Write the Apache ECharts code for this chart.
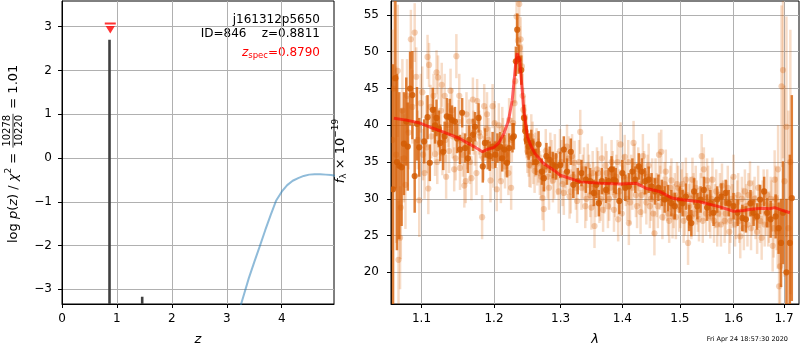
<!DOCTYPE html>
<html><head><meta charset="utf-8">
<script src="https://cdn.jsdelivr.net/npm/echarts@6/dist/echarts.min.js"></script>
<style>html,body{margin:0;padding:0;background:#fff}#c{width:800px;height:350px}</style>
</head><body><div id="c"></div>
<script>
// ---------- tick labels ----------
const zTicks = [0, 1, 2, 3, 4];
const logpTicks = [-3, -2, -1, 0, 1, 2, 3];
const lamTicks = [1.1, 1.2, 1.3, 1.4, 1.5, 1.6, 1.7];
const fluxTicks = [20, 25, 30, 35, 40, 45, 50, 55];

// ---------- left panel: p(z) ----------
const spikeZ = [0.865, 1.46];
const spikeTop = [2.70, -3.17];
const zspecZ = [0.879];
const zspecY = [2.97];
const curveZ = [3.0, 3.26, 3.4, 3.5, 3.6, 3.7, 3.8, 3.9, 4.0, 4.1, 4.2, 4.3, 4.4, 4.5, 4.6, 4.7, 4.8, 4.9, 5.0];
const curveY = [-4.6, -3.34, -2.75, -2.38, -2.02, -1.65, -1.3, -0.97, -0.77, -0.62, -0.52, -0.46, -0.41, -0.38, -0.37, -0.37, -0.38, -0.39, -0.41];

// ---------- right panel: spectrum ----------
const modelLam = [1.064, 1.08, 1.098, 1.112, 1.129, 1.1515, 1.1715, 1.1834, 1.19, 1.2, 1.207, 1.2145, 1.221, 1.2266, 1.2313, 1.2337, 1.2376, 1.241, 1.2438, 1.2492, 1.2545, 1.2601, 1.2737, 1.2923, 1.2995, 1.3313, 1.364, 1.3963, 1.4242, 1.441, 1.4636, 1.4863, 1.5, 1.536, 1.574, 1.6, 1.619, 1.638, 1.658, 1.671, 1.681, 1.698, 1.712];
const modelFlux = [40.95, 40.7, 40.3, 39.7, 39.1, 38.2, 37.1, 36.4, 36.7, 37.0, 37.6, 38.9, 40.6, 43.4, 48.0, 49.8, 48.9, 45.2, 42.1, 38.4, 37.2, 36.2, 34.8, 33.7, 33.2, 32.3, 32.1, 32.0, 32.1, 31.4, 31.0, 30.1, 29.9, 29.6, 28.9, 28.3, 28.4, 28.6, 28.7, 28.65, 28.8, 28.4, 28.1];

const darkLam = [
 1.063,1.066,1.068,1.071,1.074,1.077,1.080,1.082,1.085,1.088,
 1.091,1.094,1.097,1.1035,1.108,1.111,1.115,1.118,1.120,1.123,
 1.125,1.129,1.131,1.134,1.138,1.141,1.145,1.148,1.152,1.155,
 1.159,1.163,1.165,1.170,1.173,1.178,1.184,1.187,1.191,1.194,
 1.198,1.202,1.205,1.209,1.212,1.215,1.219,1.222,1.227,1.229,
 1.232,1.234,1.236,1.240,1.244,1.246,1.248,1.251,1.255,1.258,
 1.262,1.266,1.271,1.274,1.278,1.283,1.288,1.293,1.2995,1.305,
 1.310,1.316,1.320,1.327,1.333,1.340,1.347,1.353,1.357,1.361,
 1.366,1.373,1.377,1.382,1.386,1.389,1.395,1.400,1.405,1.411,
 1.417,1.422,1.428,1.433,1.439,1.445,1.450,1.456,1.462,1.468,
 1.473,1.479,1.485,1.491,1.500,1.505,1.511,1.517,1.521,1.526,
 1.532,1.538,1.544,1.550,1.556,1.562,1.569,1.577,1.585,1.591,
 1.600,1.608,1.617,1.624,1.633,1.639,1.646,1.652,1.660,1.666,
 1.673,1.683,1.689,1.694,1.698,1.705,1.712,1.716];
const darkFlux = [
 31.3,46.4,35.0,34.5,34.3,37.5,40.5,37.1,45.0,44.1,
 33.1,40.2,37.0,37.8,41.1,34.9,42.1,40.0,41.0,39.5,
 37.6,36.4,38.5,41.2,41.1,40.7,40.5,38.2,36.7,41.7,
 36.9,35.5,38.0,38.7,39.8,41.0,34.4,37.6,36.0,35.8,
 37.1,36.0,36.9,37.1,35.5,36.7,34.9,36.9,38.3,38.5,
 48.7,53.0,49.0,47.5,41.0,39.2,38.0,37.1,37.6,36.4,
 35.0,37.4,33.7,32.8,35.8,35.3,34.6,34.4,34.6,36.7,
 33.7,36.4,31.9,32.4,33.5,32.6,32.4,30.8,31.9,29.4,
 32.4,31.2,32.4,34.0,32.6,32.4,29.7,33.5,31.5,31.7,
 33.7,32.6,34.4,33.7,32.4,32.6,31.7,31.0,31.5,30.8,
 29.9,30.1,29.4,29.0,29.9,29.4,30.3,27.4,26.7,31.0,
 29.0,29.9,31.2,28.8,29.4,28.1,29.9,30.3,30.8,29.4,
 29.0,28.1,27.4,27.2,29.4,28.1,27.6,29.9,31.0,28.1,
 27.2,27.6,26.0,24.0,28.1,20.0,24.0,30.1];
const darkErr = [
 17,15,12,10,8,7,6,6,5,6,
 5,5,4,3,3,2.5,3,2.5,2.5,2.5,
 2.5,2.5,2,2.5,2.5,2,2,2,2,2,
 2,2,2,2.2,2,2,2.2,2,2,2,
 2,1.8,2,2,1.8,2,2,2,2,1.8,
 2,2.2,2,2,1.8,1.8,2,1.8,1.8,1.8,
 1.8,1.8,1.8,1.8,1.8,1.8,1.8,1.8,1.8,1.8,
 1.8,1.8,1.8,1.8,1.8,1.8,1.8,1.8,1.8,1.8,
 1.8,1.8,1.8,1.8,1.8,1.8,1.8,1.8,1.8,1.8,
 1.8,1.8,1.8,1.8,1.8,1.8,1.8,1.8,1.8,1.8,
 1.8,1.8,1.8,1.8,1.8,1.8,1.8,1.8,1.8,1.8,
 1.8,1.8,1.8,1.8,1.8,1.8,1.8,1.8,1.8,1.8,
 1.8,1.8,1.8,1.8,1.8,1.8,1.8,2,2,2,
 2.5,3,3.5,6,7,10,12,14];

const lightLam = [
 1.062,1.064,1.067,1.069,1.070,1.072,1.073,1.075,1.077,1.079,
 1.081,1.083,1.086,1.088,1.091,1.093,1.095,1.097,1.099,1.102,
 1.104,1.106,1.108,1.109,1.110,1.113,1.116,1.118,1.120,1.122,
 1.124,1.126,1.128,1.131,1.133,1.136,1.139,1.142,1.144,1.147,
 1.150,1.152,1.155,1.158,1.160,1.162,1.165,1.168,1.170,1.173,
 1.176,1.179,1.183,1.186,1.189,1.192,1.195,1.198,1.201,1.204,
 1.207,1.210,1.213,1.216,1.219,1.222,1.225,1.228,1.231,1.233,
 1.237,1.239,1.241,1.243,1.246,1.249,1.252,1.255,1.258,1.261,
 1.264,1.268,1.272,1.274,1.277,1.280,1.284,1.288,1.291,1.295,
 1.299,1.303,1.307,1.310,1.314,1.318,1.322,1.326,1.331,1.335,
 1.339,1.343,1.347,1.351,1.354,1.358,1.362,1.366,1.370,1.374,
 1.378,1.382,1.386,1.390,1.393,1.397,1.400,1.404,1.408,1.411,
 1.415,1.419,1.423,1.427,1.431,1.435,1.439,1.443,1.447,1.451,
 1.455,1.459,1.463,1.467,1.471,1.475,1.479,1.483,1.487,1.491,
 1.495,1.499,1.503,1.507,1.511,1.515,1.519,1.523,1.527,1.531,
 1.535,1.540,1.544,1.548,1.552,1.556,1.560,1.565,1.569,1.574,
 1.578,1.583,1.587,1.592,1.596,1.600,1.605,1.609,1.613,1.618,
 1.622,1.627,1.632,1.636,1.641,1.646,1.650,1.655,1.659,1.664,
 1.668,1.673,1.677,1.681,1.685,1.688,1.690,1.692,1.695,1.698,
 1.701,1.705,1.709,1.713];
const lightFlux = [
 38.0,45.0,36.0,47.4,21.7,24.7,28.8,42.0,35.5,31.9,
 44.0,39.0,51.7,42.5,52.6,46.6,38.0,29.8,43.0,36.0,
 33.5,40.5,49.3,31.4,48.2,38.5,44.0,36.1,47.2,46.5,
 39.0,42.0,36.2,44.0,33.0,40.0,44.7,38.5,34.0,49.4,
 40.5,34.2,38.0,31.8,32.4,37.0,40.5,32.8,43.5,37.5,
 43.3,39.0,27.5,42.6,39.5,38.0,32.5,42.6,40.3,31.3,
 40.0,32.4,38.0,34.4,37.0,40.7,31.5,40.3,46.0,54.8,
 56.5,51.7,48.0,42.1,39.8,36.5,34.6,38.5,35.0,36.0,
 34.8,33.5,30.1,28.6,36.5,33.0,36.0,32.5,35.8,33.5,
 36.5,32.0,34.5,37.1,30.3,35.8,34.9,29.7,39.1,33.0,
 29.0,34.5,30.5,33.5,26.3,34.0,29.7,35.5,31.0,33.5,
 30.0,35.0,28.5,33.0,27.2,37.4,31.5,35.7,30.0,26.7,
 33.0,37.6,30.5,34.0,28.2,35.8,31.0,33.0,29.0,32.5,
 25.3,30.5,36.0,36.4,30.0,33.7,28.0,31.5,27.6,30.5,
 32.0,28.5,31.0,27.0,32.6,24.0,30.0,32.6,28.0,29.5,
 27.2,35.8,34.0,28.0,31.5,27.6,32.6,29.0,26.5,30.5,
 31.8,27.0,29.5,25.5,30.0,33.0,27.5,30.5,24.9,28.5,
 31.0,26.5,32.1,28.0,30.0,25.5,29.0,24.7,31.0,28.0,
 26.5,30.0,23.6,32.6,28.0,34.0,18.1,20.8,45.3,47.5,
 32.4,39.8,26.0,35.0];
const lightErr = [
 15,14,12,9,8,7,7,7,6,6,
 5,5,4,5,4,4,4,5,4,3.5,
 3.5,3.5,3,3.5,3,3,3,3,3,3,
 3,3,3,3,3,3,3,3,3,3,
 3,3,3,3,3,3,3,3,3,3,
 3,3,3,3,3,3,3,3,3,3,
 3,3,3,3,3,3,3,3,3,3,
 3,3,3,3,3,3,3,3,3,3,
 3,3,3,3,3,3,3,3,3,3,
 3,3,3,3,3,3,3,3,3,3,
 3,3,3,3,3,3,3,3,3,3,
 3,3,3,3,3,3,3,3,3,3,
 3,3,3,3,3,3,3,3,3,3,
 3,3,3,3,3,3,3,3,3,3,
 3,3,3,3,3,3,3,3,3,3,
 3,3,3,3,3,3,3,3,3,3,
 3,3,3,3,3,3,3,3,3,3,
 3,3,3,3,3,3,3,3,3,3,
 3,3,3.5,4,5,6,8,9,11,12,
 13,15,16,18];

// second batch of faint points (interleaved)
const light2Lam = [
 1.101,1.107,1.112,1.117,1.121,1.127,1.132,1.137,1.141,1.146,
 1.151,1.156,1.161,1.166,1.171,1.175,1.180,1.185,1.190,1.194,
 1.199,1.203,1.208,1.212,1.217,1.221,1.226,1.230,1.235,1.238,
 1.242,1.245,1.248,1.251,1.254,1.257,1.260,1.263,1.266,1.270,
 1.276,1.282,1.286,1.290,1.297,1.301,1.305,1.309,1.313,1.316,
 1.320,1.324,1.329,1.333,1.337,1.341,1.345,1.349,1.352,1.356,
 1.360,1.364,1.368,1.372,1.376,1.380,1.384,1.388,1.392,1.395,
 1.399,1.402,1.406,1.410,1.413,1.417,1.421,1.425,1.429,1.433,
 1.437,1.441,1.445,1.449,1.453,1.457,1.461,1.465,1.469,1.473,
 1.477,1.481,1.485,1.489,1.493,1.497,1.501,1.505,1.509,1.513,
 1.517,1.521,1.525,1.529,1.533,1.538,1.542,1.546,1.550,1.554,
 1.558,1.563,1.567,1.571,1.576,1.580,1.585,1.589,1.594,1.598,
 1.603,1.607,1.611,1.616,1.620,1.625,1.629,1.634,1.638,1.643,
 1.648,1.652,1.657,1.661,1.666,1.670,1.675,1.679,1.683,1.687];
const light2Flux = [
 44.5,37.0,42.5,39.5,35.0,45.5,38.0,36.5,42.0,35.5,
 44.0,36.0,41.5,35.0,39.0,33.5,38.5,35.5,41.5,36.8,
 34.5,37.5,35.5,39.5,36.0,33.5,38.0,43.0,51.5,50.5,
 44.0,41.0,38.5,36.0,34.5,37.5,33.8,36.6,35.2,33.0,
 34.0,31.5,35.0,33.0,31.0,35.0,30.8,33.5,35.5,31.0,
 33.0,31.5,35.0,31.5,34.0,30.0,33.0,28.8,32.0,30.5,
 33.5,30.0,28.5,34.5,29.0,31.5,33.5,30.5,35.0,31.0,
 28.0,33.0,32.0,35.0,29.5,31.5,34.5,29.0,32.0,30.5,
 33.5,29.5,34.5,30.0,28.0,32.5,29.0,31.5,27.5,32.0,
 30.0,27.0,32.5,29.0,27.5,31.5,29.0,32.0,28.0,30.5,
 29.0,27.5,30.5,31.5,28.5,30.5,27.0,30.0,32.5,28.5,
 30.0,27.0,31.0,28.0,26.5,29.5,28.0,31.5,27.0,29.0,
 26.5,29.5,27.0,30.0,26.0,29.0,30.5,26.0,29.5,27.5,
 31.5,27.0,29.5,26.5,30.5,27.5,29.0,26.0,30.0,25.5];
const light2Err = [
 3.5,3.5,3,3,3,3,3,3,3,3,
 3,3,3,3,3,3,3,3,3,3,
 3,3,3,3,3,3,3,3,3,3,
 3,3,3,3,3,3,3,3,3,3,
 3,3,3,3,3,3,3,3,3,3,
 3,3,3,3,3,3,3,3,3,3,
 3,3,3,3,3,3,3,3,3,3,
 3,3,3,3,3,3,3,3,3,3,
 3,3,3,3,3,3,3,3,3,3,
 3,3,3,3,3,3,3,3,3,3,
 3,3,3,3,3,3,3,3,3,3,
 3,3,3,3,3,3,3,3,3,3,
 3,3,3,3,3,3,3,3,3,3,
 3,3,3,3,3.5,3.5,3.5,4,4.5,5];

// ---------- helpers ----------
const FAM = "'DejaVu Sans'";
const ctx = document.createElement('canvas').getContext('2d');
function tw(t, font) { ctx.font = font; return ctx.measureText(t).width; }
function txt(text, x, y, font, fill, align) {
  return { type: 'text', x: x, y: y, silent: true,
    style: { text: text, font: font, fill: fill || '#000', align: align || 'left', verticalAlign: 'middle',
             textAlign: align || 'left', textVerticalAlign: 'middle' } };
}
function pieces(list, x0, y0) {
  let x = x0; const els = [];
  list.forEach(p => { els.push(txt(p[0], x, y0 + p[2], p[1], p[3])); x += tw(p[0], p[1]); });
  return { els: els, width: x - x0 };
}
const F13 = "13px " + FAM, I13 = "italic 13px " + FAM, F9 = "9px " + FAM, F10 = "10px " + FAM;
const F12 = "12px " + FAM, I12 = "italic 12px " + FAM, F8 = "8.5px " + FAM;

// left y label (rotated, with fraction)
const la = pieces([['log ', F13, 0], ['p', I13, 0], ['(', F13, 0], ['z', I13, 0], [') / ', F13, 0], ['\u03c7', I13, 0], ['2', F9, -5], [' = ', F13, 0]], 0, 0);
const fw = Math.max(tw('10278', F10), tw('10220', F10)) + 2;
const fx = la.width + 1;
const lb = pieces([[' = 1.01', F13, 0]], fx + fw + 1, 0);
const leftLabel = { type: 'group', x: 14, y: 243, rotation: Math.PI / 2, children:
  la.els.concat([
    txt('10278', fx + fw / 2, -6.5, F10, '#000', 'center'),
    txt('10220', fx + fw / 2, 5.5, F10, '#000', 'center'),
    { type: 'line', silent: true, shape: { x1: fx, y1: -1, x2: fx + fw, y2: -1 }, style: { stroke: '#000', lineWidth: 0.8 } }
  ], lb.els) };

// right y label
const rl = pieces([['f', I13, 0], ['\u03bb', F9, 3], [' \u00d7 10', F13, 0], ['\u221219', F9, -5]], 0, 0);
rl.els.forEach(e => { e.x -= rl.width / 2; });
const rightLabel = { type: 'group', x: 341, y: 151, rotation: Math.PI / 2, children: rl.els };

// zspec text (right aligned)
const zs = pieces([['z', I12, 0, '#ff0000'], ['spec', F8, 3, '#ff0000'], ['=0.8790', F12, 0, '#ff0000']], 0, 0);
zs.els.forEach(e => { e.x += 320 - zs.width; });

function errSeries(points, barCol, dotCol) {
  return {
    type: 'custom', xAxisIndex: 1, yAxisIndex: 1, clip: true, silent: true,
    data: points, encode: { x: 0, y: 1 },
    renderItem: function (params, api) {
      const x = api.value(0), y = api.value(1), e = api.value(2);
      const p = api.coord([x, y]), lo = api.coord([x, y - e]), hi = api.coord([x, y + e]);
      return { type: 'group', children: [
        { type: 'line', shape: { x1: p[0], y1: lo[1], x2: p[0], y2: hi[1] }, style: { stroke: barCol, lineWidth: 2.5 } },
        { type: 'circle', shape: { cx: p[0], cy: p[1], r: 3.1 }, style: { fill: dotCol } }
      ] };
    }
  };
}

const chart = echarts.init(document.getElementById('c'), null, { renderer: 'canvas' });
const axisCommon = {
  axisLine: { show: true, onZero: false, lineStyle: { color: '#000', width: 1 } },
  axisTick: { show: true, inside: false, length: 4, lineStyle: { color: '#000', width: 1 } },
  splitLine: { show: true, lineStyle: { color: '#b0b0b0', width: 1 } },
  axisLabel: { color: '#000', fontSize: 12, fontFamily: 'DejaVu Sans' }
};
function fmtMinus(v) { return v < 0 ? '\u2212' + Math.abs(v) : String(v); }

chart.setOption({
  animation: false,
  backgroundColor: '#fff',
  grid: [
    { left: 62, top: 1, width: 272, height: 303, show: true, borderColor: '#000', borderWidth: 1, backgroundColor: 'transparent' },
    { left: 391, top: 1, width: 408, height: 303, show: true, borderColor: '#000', borderWidth: 1, backgroundColor: 'transparent' }
  ],
  xAxis: [
    Object.assign({}, axisCommon, { type: 'value', gridIndex: 0, min: 0, max: 4.952,
      axisTick: Object.assign({}, axisCommon.axisTick, { customValues: zTicks }),
      axisLabel: Object.assign({}, axisCommon.axisLabel, { customValues: zTicks, margin: 9 }) }),
    Object.assign({}, axisCommon, { type: 'log', logBase: 10, gridIndex: 1, min: 1.0604, max: 1.7309,
      axisTick: Object.assign({}, axisCommon.axisTick, { customValues: lamTicks }),
      axisLabel: Object.assign({}, axisCommon.axisLabel, { customValues: lamTicks, margin: 9, formatter: v => Number(v).toFixed(1) }) })
  ],
  yAxis: [
    Object.assign({}, axisCommon, { type: 'value', gridIndex: 0, min: -3.336, max: 3.587,
      axisTick: Object.assign({}, axisCommon.axisTick, { customValues: logpTicks }),
      axisLabel: Object.assign({}, axisCommon.axisLabel, { customValues: logpTicks, margin: 10, formatter: fmtMinus }) }),
    Object.assign({}, axisCommon, { type: 'value', gridIndex: 1, min: 15.69, max: 56.9,
      axisTick: Object.assign({}, axisCommon.axisTick, { customValues: fluxTicks }),
      axisLabel: Object.assign({}, axisCommon.axisLabel, { customValues: fluxTicks, margin: 12 }) })
  ],
  series: [
    { type: 'line', xAxisIndex: 0, yAxisIndex: 0, showSymbol: false, silent: true, clip: true,
      data: curveZ.map((z, i) => [z, curveY[i]]),
      lineStyle: { color: 'rgba(31,119,180,0.5)', width: 2 } },
    { type: 'custom', xAxisIndex: 0, yAxisIndex: 0, clip: true, silent: true,
      data: spikeZ.map((z, i) => [z, spikeTop[i]]), encode: { x: 0, y: 1 },
      renderItem: function (params, api) {
        const top = api.coord([api.value(0), api.value(1)]);
        const bot = api.coord([api.value(0), -3.336]);
        return { type: 'line', shape: { x1: top[0], y1: bot[1], x2: top[0], y2: top[1] }, style: { stroke: '#404040', lineWidth: 2.6 } };
      } },
    { type: 'scatter', xAxisIndex: 0, yAxisIndex: 0, silent: true,
      data: zspecZ.map((z, i) => [z, zspecY[i]]),
      symbol: 'path://M0,0 L12,0 L12,2 L0,2 Z M1,3.6 L11,3.6 L6,11 Z', symbolSize: [11, 11],
      itemStyle: { color: '#ff0000' } },
    errSeries(lightLam.map((l, i) => [l, lightFlux[i], lightErr[i]])
      .concat(light2Lam.map((l, i) => [l, light2Flux[i], light2Err[i]])), 'rgba(217,95,2,0.22)', 'rgba(217,95,2,0.28)'),
    errSeries(darkLam.map((l, i) => [l, darkFlux[i], darkErr[i]]), 'rgba(214,94,4,0.78)', 'rgba(210,92,4,0.85)'),
    { type: 'line', xAxisIndex: 1, yAxisIndex: 1, showSymbol: false, silent: true, clip: true,
      data: modelLam.map((l, i) => [l, modelFlux[i]]),
      lineStyle: { color: 'rgba(255,0,0,0.6)', width: 3 } }
  ],
  graphic: [
    leftLabel, rightLabel,
    txt('z', 198, 340, I13, '#000', 'center'),
    txt('\u03bb', 595, 340, I13, '#000', 'center'),
    txt('j161312p5650', 320, 20, F12, '#000', 'right'),
    txt('ID=846    z=0.8811', 320, 34, F12, '#000', 'right'),
    { type: 'group', children: zs.els.map(e => { e.y += 52.5; return e; }) },
    txt('Fri Apr 24 18:57:30 2020', 788, 339, "6.5px " + FAM, '#000', 'right')
  ]
});
</script>
</body></html>
